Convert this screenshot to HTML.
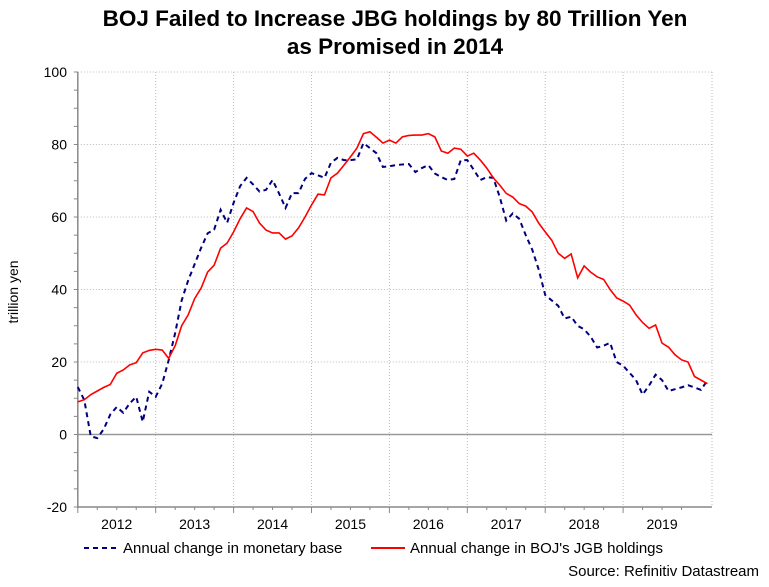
<!DOCTYPE html>
<html><head><meta charset="utf-8"><style>
body{margin:0;background:#fff;}
svg{display:block;font-family:"Liberation Sans",Arial,sans-serif;}
</style></head><body>
<svg id="chart" width="769" height="587" viewBox="0 0 769 587">
<text x="395" y="26" text-anchor="middle" font-size="22.5" font-weight="bold">BOJ Failed to Increase JBG holdings by 80 Trillion Yen</text>
<text x="395" y="54" text-anchor="middle" font-size="22.5" font-weight="bold">as Promised in 2014</text>
<text transform="translate(18,292) rotate(-90)" text-anchor="middle" font-size="14">trillion yen</text>
<g id="grid"></g>
<g id="axes"></g>
<g id="series"></g>
<g>
<g>
<line x1="84" y1="548" x2="118" y2="548" stroke="#00007f" stroke-width="2" stroke-dasharray="5,4"/>
<text x="123" y="553" font-size="15">Annual change in monetary base</text></g>
<g>
<line x1="371" y1="548" x2="405" y2="548" stroke="#ff0000" stroke-width="2"/>
<text x="410" y="553" font-size="15">Annual change in BOJ's JGB holdings</text></g>
</g>
<text x="759" y="576" text-anchor="end" font-size="15">Source: Refinitiv Datastream</text>
</svg>
<script>
const yTicks=[-20,0,20,40,60,80,100];
const yearLabels=["2012","2013","2014","2015","2016","2017","2018","2019"];
const monetaryBase=[13.1,9.5,-0.5,-1,1.5,5.5,7.6,6,8.6,10.4,3.5,11.8,
10.4,14,20.5,28,37,42.5,47,51.5,55.5,56.5,62,58.4,
63.9,68.5,70.8,69,67,67.5,70.2,66.5,62.5,66.6,66.6,70.5,
72.1,71.5,70.8,75,76.3,75.7,75.7,75.9,80.4,79,77.6,73.8,
74,74.3,74.5,74.6,72.4,73.5,74.3,72,71,70.2,70.5,75.7,
75.7,73,70.2,71,70.8,65.5,59,61,59.5,55,51,45.5,
38.5,37,35.5,32,32.5,30,29,27,24,24.5,25.3,20,
19,17,15,11,13.5,16.5,15,12,12.5,13,13.6,13,
12.3,15];
const jgbHoldings=[9,9.6,11,12,13,13.8,16.9,17.8,19.2,19.8,22.5,23.2,
23.5,23.3,21,24.5,30,33,37.5,40.4,44.8,46.7,51.4,52.8,
55.9,59.5,62.5,61.5,58.3,56.4,55.6,55.6,53.9,54.8,57,60,
63.3,66.3,66.1,70.8,72.1,74.3,76.6,79,83,83.5,82,80.4,
81.2,80.4,82.1,82.5,82.6,82.6,83,82.1,78.2,77.6,79,78.7,
76.8,77.6,75.7,73.5,70.8,68.8,66.5,65.5,63.7,63,61.4,58.3,
55.9,53.6,50,48.6,49.8,43.2,46.5,44.8,43.5,42.8,40,37.7,
36.8,35.7,33,30.9,29.3,30.2,25.2,24.1,22,20.6,20,16,
15,14];
const X0=77.8,X1=712,YTOP=72,YBOT=507,YMIN=-20,YMAX=100,YEARW=77.9;
const NS='http://www.w3.org/2000/svg';
function yScale(v){return YBOT-(v-YMIN)/(YMAX-YMIN)*(YBOT-YTOP);}
function xMonth(i){return X0+i*YEARW/12;}
function mk(tag,attrs,parent){const e=document.createElementNS(NS,tag);for(const k in attrs)e.setAttribute(k,attrs[k]);parent.appendChild(e);return e;}
const gridG=document.getElementById('grid'),axesG=document.getElementById('axes'),seriesG=document.getElementById('series');
yTicks.forEach(t=>{
  const y=yScale(t);
  if(t!==YMIN){const l=mk('line',{x1:X0,x2:X1,y1:y,y2:y,stroke:t===0?'#999':'#bbb','stroke-width':t===0?1.5:1,'stroke-dasharray':t===0?'none':'1,2'},gridG);
  
  }
  const tx=mk('text',{x:67,y:y+5,'text-anchor':'end','font-size':14},axesG);tx.textContent=String(t);
  
  
});
for(let v=YMIN;v<=YMAX;v+=5){const y=yScale(v);mk('line',{x1:X0-4,x2:X0,y1:y,y2:y,stroke:'#888'},axesG);}
yearLabels.forEach((lab,k)=>{
  const xs=X0+k*YEARW;
  if(k>0){const g=mk('line',{x1:xs,x2:xs,y1:YTOP,y2:YBOT,stroke:'#bbb','stroke-dasharray':'1,2'},gridG);
  
  }
  mk('line',{x1:xs,x2:xs,y1:YBOT,y2:YBOT+6,stroke:'#888'},axesG);
  for(let q=1;q<4;q++){const xq=xs+q*YEARW/4;if(xq<X1)mk('line',{x1:xq,x2:xq,y1:YBOT,y2:YBOT+3,stroke:'#888'},axesG);}
  const tx=mk('text',{x:xs+YEARW/2,y:529,'text-anchor':'middle','font-size':14},axesG);tx.textContent=lab;
  
  
});
mk('line',{x1:X1,x2:X1,y1:YTOP,y2:YBOT,stroke:'#bbb','stroke-dasharray':'1,2'},gridG);
const ya=mk('line',{x1:X0,x2:X0,y1:YTOP,y2:YBOT+1,stroke:'#888','stroke-width':1.5},axesG);


const xa=mk('line',{x1:X0,x2:X1,y1:YBOT,y2:YBOT,stroke:'#888','stroke-width':1.5},axesG);


function linePath(vals){return vals.map((v,i)=>(i?'L':'M')+xMonth(i).toFixed(2)+','+yScale(v).toFixed(2)).join('');}
const pb=mk('path',{d:linePath(monetaryBase),fill:'none',stroke:'#00007f','stroke-width':2,'stroke-dasharray':'5,4'},seriesG);


const pr=mk('path',{d:linePath(jgbHoldings),fill:'none',stroke:'#ff0000','stroke-width':1.6},seriesG);


</script>
</body></html>
